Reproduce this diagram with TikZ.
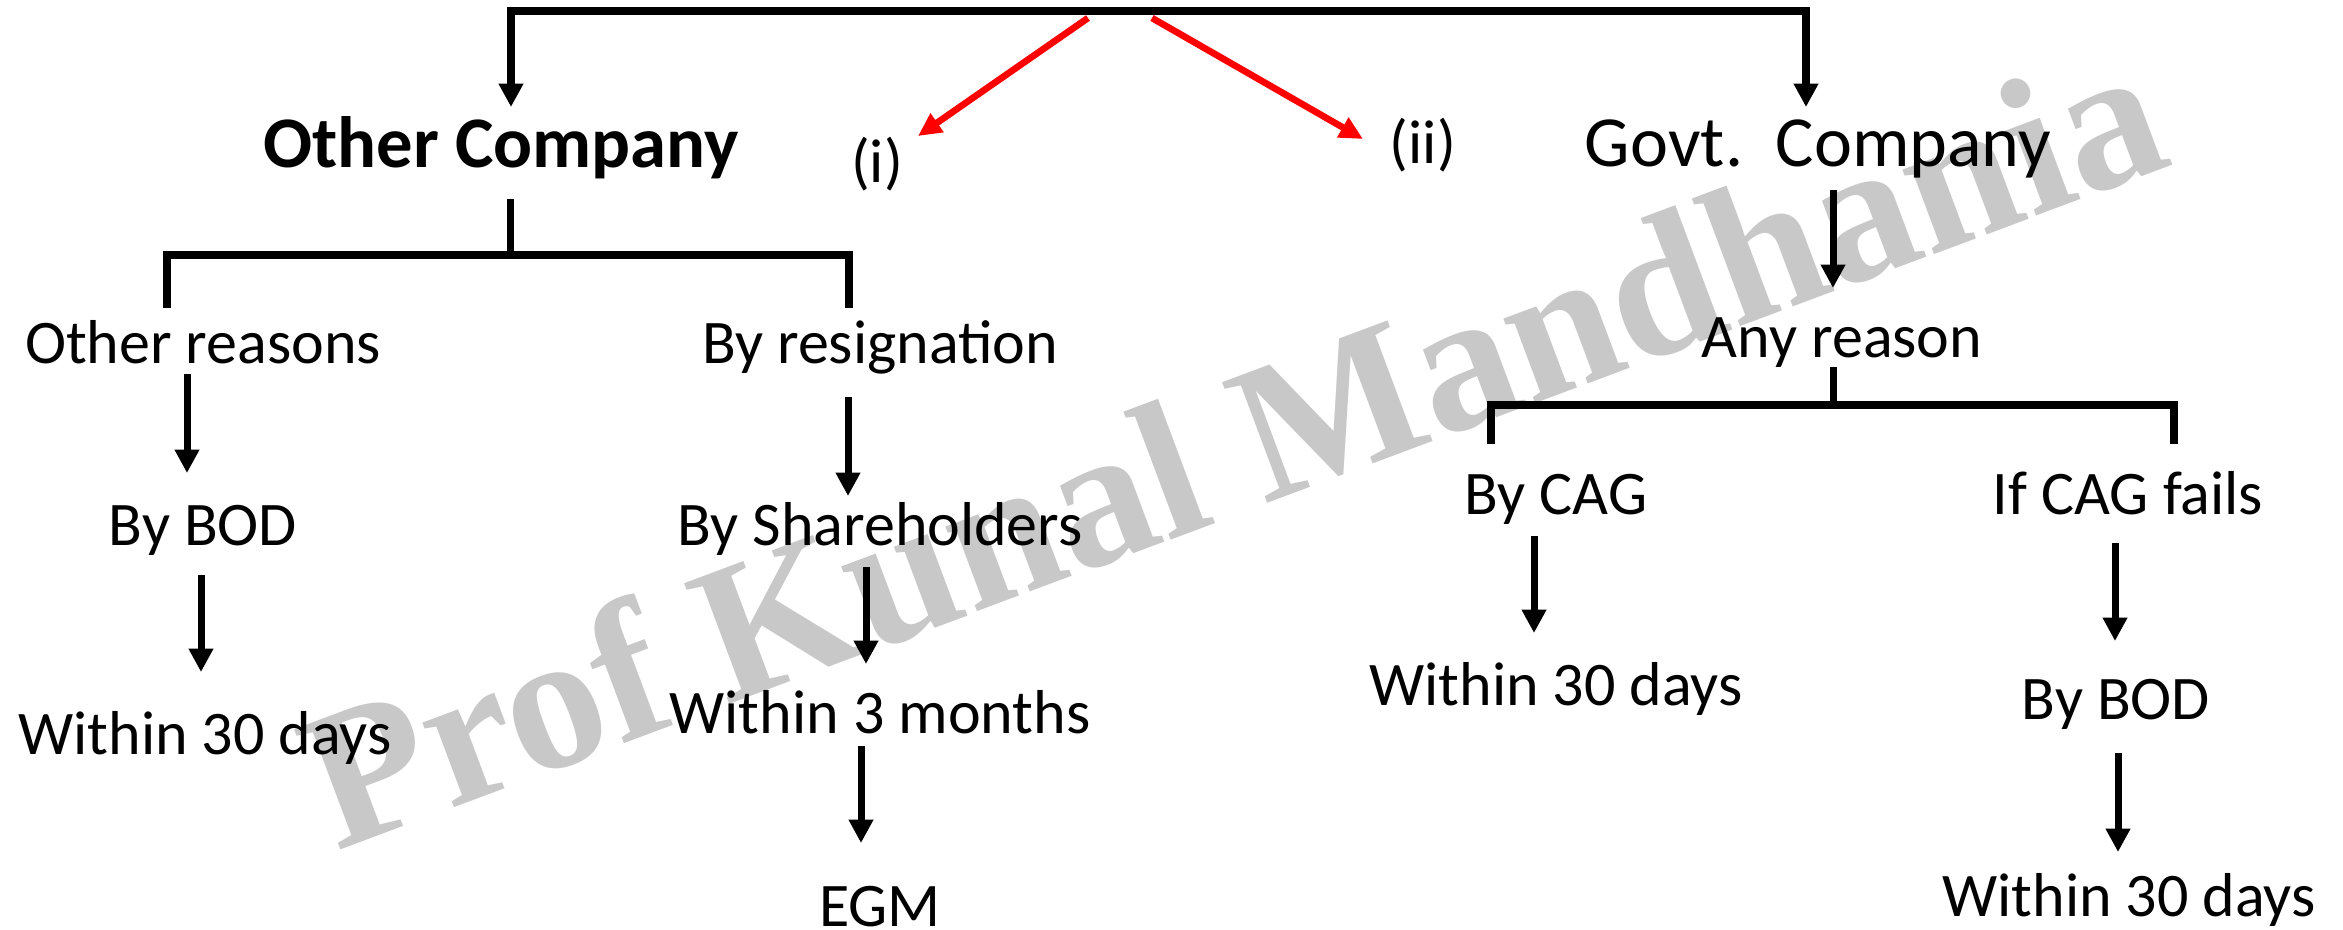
\documentclass[tikz,border=0pt]{standalone}
\usepackage{fontspec}
\setmainfont{Carlito}
\newfontfamily\wmfont{Liberation Serif}
\usetikzlibrary{arrows.meta,calc}
\definecolor{wmgray}{RGB}{200,200,200}

\begin{document}
\begin{tikzpicture}[x=0.3pt,y=-0.3pt,
  head/.style={font=\fontsize{21.6}{24}\selectfont, inner sep=0pt, anchor=base},
  item/.style={font=\fontsize{18.6}{22}\selectfont, inner sep=0pt, anchor=base},
  ln/.style={line width=2.1pt, black},
  tip/.style={-{Triangle[length=7pt,width=7pt]}},
  arr/.style={ln, tip},
  redarr/.style={line width=2pt, red, -{Triangle[length=7pt,width=6.5pt]}},
]
\useasboundingbox[fill=white] (0,0) rectangle (2343,930);

% watermark
\node[anchor=base west, rotate=20.5, text=wmgray, inner sep=0pt,
      font=\wmfont\bfseries\fontsize{59}{60}\selectfont] (wm) at (336,852) {Prof Kunal Mandhania};

% top level
\node[head, font=\bfseries\fontsize{21.8}{24}\selectfont] (oc) at (501,167) {Other Company};
\node[head] (gc) at (1818,166) {Govt.\ \ Company};
\node[item] (i) at (877,182) {(i)};
\node[item] (ii) at (1423,163) {(ii)};

% other company branch
\node[item] (or) at (203,363) {Other reasons};
\node[item] (res) at (880,363) {By resignation};
\node[item] (bod1) at (203,545) {By BOD};
\node[item] (sh) at (880,545) {By Shareholders};
\node[item] (w1) at (205,754) {Within 30 days};
\node[item] (w3) at (880,733) {Within 3 months};
\node[item] (egm) at (880,926) {EGM};

% government company branch
\node[item] (ar) at (1842,357) {Any reason};
\node[item] (cag) at (1556,514) {By CAG};
\node[item] (fail) at (2128,514) {If CAG fails};
\node[item] (w2) at (1556,705) {Within 30 days};
\node[item] (bod2) at (2116,719) {By BOD};
\node[item] (w4) at (2129,916) {Within 30 days};

% top bracket with its two arrows
\draw[ln, line width=2.3pt, {Triangle[length=7pt,width=7pt]}-{Triangle[length=7pt,width=7pt]}]
  ($(oc.base)+(10,-60)$) |- ($(gc.base)+(-12,-155)$) -- ($(gc.base)+(-12,-59)$);

% red pointers
\coordinate (r1) at (1088,18);
\coordinate (r2) at (1152,18);
\draw[redarr] (r1) -- ($(i.base)+(41,-46)$);
\draw[redarr] (r2) -- ($(ii.base)+(-60,-24)$);

% other company split
\draw[ln] ($(oc.base)+(9,32)$) -- ($(oc.base)+(9,88)$);
\draw[ln, line width=2.3pt] ($(or.base)+(-36,-55)$) |- ($(res.base)+(-31,-108)$) -- ($(res.base)+(-31,-55)$);

\draw[arr] ($(or.base)+(-16,11)$) -- ($(bod1.base)+(-16,-72)$);
\draw[arr] ($(bod1.base)+(-2,30)$) -- ($(w1.base)+(-4,-82)$);
\draw[arr] ($(res.base)+(-32,34)$) -- ($(sh.base)+(-32,-49)$);
\draw[arr] ($(sh.base)+(-14,22)$) -- ($(w3.base)+(-14,-69)$);
\draw[arr] ($(w3.base)+(-19,13)$) -- ($(egm.base)+(-19,-83)$);

% government company split
\draw[arr] ($(gc.base)+(15,24)$) -- ($(ar.base)+(-9,-69)$);
\draw[ln] ($(ar.base)+(-9,10)$) -- ($(ar.base)+(-9,48)$);
\draw[ln, line width=2.3pt] ($(cag.base)+(-65,-70)$) |- ($(fail.base)+(46,-109)$) -- ($(fail.base)+(46,-70)$);

\draw[arr] ($(cag.base)+(-22,22)$) -- ($(w2.base)+(-22,-72)$);
\draw[arr] ($(fail.base)+(-13,29)$) -- ($(bod2.base)+(-1,-78)$);
\draw[arr] ($(bod2.base)+(2,34)$) -- ($(w4.base)+(-11,-64)$);
\end{tikzpicture}
\end{document}
